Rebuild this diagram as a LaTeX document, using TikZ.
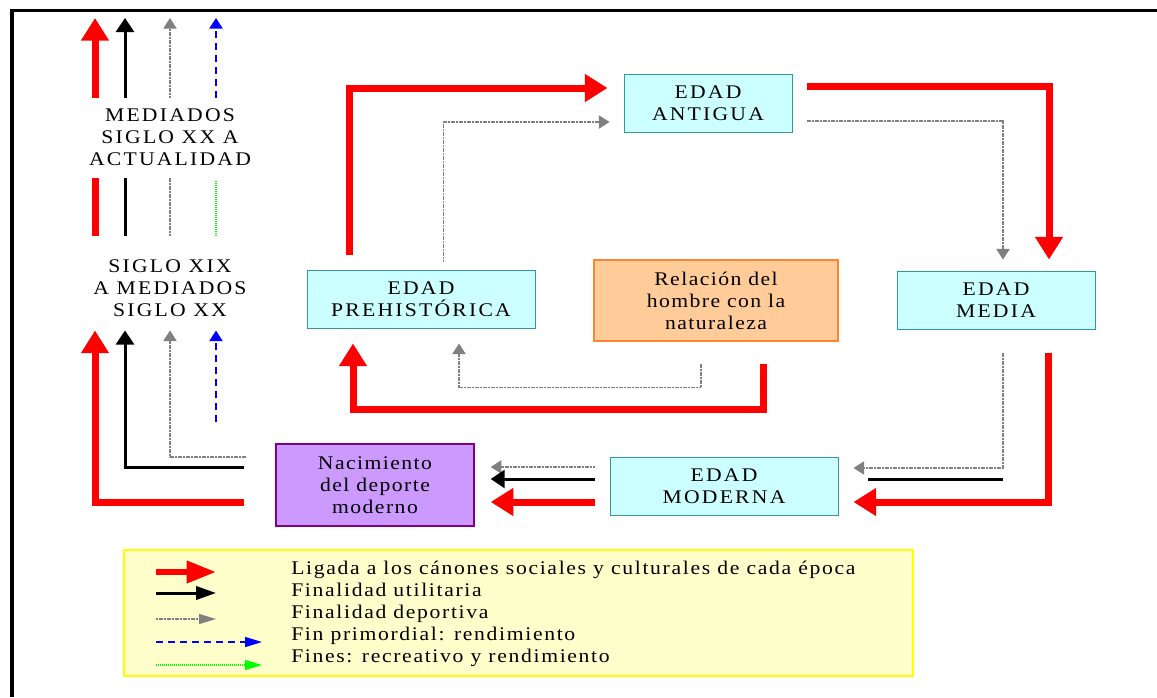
\documentclass[tikz,border=0pt]{standalone}
\usepackage{fontspec}
\setmainfont{Liberation Serif}
\newfontfamily\capsfont{Liberation Serif}[LetterSpace=11.5,FakeStretch=1.12]
\newfontfamily\lowfont{Liberation Serif}[LetterSpace=7.5,FakeStretch=1.12]
\newfontfamily\legfont{Liberation Serif}[LetterSpace=8.6,FakeStretch=1.12]
\usetikzlibrary{arrows.meta,calc}
\definecolor{boxcyan}{HTML}{CCFFFF}
\definecolor{boxteal}{HTML}{339999}
\definecolor{relfill}{HTML}{FFCC99}
\definecolor{reldraw}{HTML}{FF8533}
\definecolor{nacfill}{HTML}{CC99FF}
\definecolor{nacdraw}{HTML}{800080}
\definecolor{legfill}{HTML}{FFFFCC}
\definecolor{legdraw}{HTML}{FFFF00}
\definecolor{arrred}{HTML}{FF0000}
\definecolor{arrgray}{HTML}{808080}
\definecolor{arrblue}{HTML}{0000FF}
\definecolor{arrgreen}{HTML}{00FF00}
\tikzset{
  capstext/.style={font=\capsfont\fontsize{14.5pt}{16.5pt}\selectfont, align=center, inner sep=0pt},
  lowtext/.style={font=\lowfont\fontsize{14.5pt}{16.5pt}\selectfont, align=center, inner sep=0pt},
  edadbox/.style={capstext, draw=boxteal, fill=boxcyan, line width=0.75pt, minimum height=43.5pt},
  relbox/.style={lowtext, draw=reldraw, fill=relfill, line width=1.1pt},
  nacbox/.style={lowtext, draw=nacdraw, fill=nacfill, line width=1.1pt},
  legbox/.style={draw=legdraw, fill=legfill, line width=1.5pt, inner sep=0pt},
  legtext/.style={font=\legfont\fontsize{14.5pt}{16.5pt}\selectfont, inner sep=0pt, anchor=base west},
  redline/.style={draw=arrred, line width=5.25pt},
  blackline/.style={draw=black, line width=2.25pt},
  grayline/.style={draw=arrgray, line width=1pt, dash pattern=on 1.5pt off 0.5pt},
  blueline/.style={draw=arrblue, line width=1.1pt, dash pattern=on 5.25pt off 3.75pt},
  greenline/.style={draw=arrgreen, line width=1.1pt, dash pattern=on 0.75pt off 0.75pt},
  redarr/.style={redline, -{Triangle[length=17pt,width=20pt]}},
  blackarr/.style={blackline, -{Triangle[length=10.5pt,width=13.5pt]}},
  grayarr/.style={grayline, -{Triangle[length=8pt,width=10pt]}},
  bluearr/.style={blueline, -{Triangle[length=8pt,width=10pt]}},
  redarrL/.style={redline, line width=4.5pt, -{Triangle[length=22pt,width=16pt]}},
  blackarrL/.style={blackline, -{Triangle[length=15pt,width=10pt]}},
  grayarrL/.style={grayline, -{Triangle[length=12.75pt,width=7.5pt]}},
  bluearrL/.style={blueline, -{Triangle[length=12.75pt,width=7.5pt]}},
  greenarrL/.style={greenline, -{Triangle[length=12.75pt,width=7.5pt]}}
}
\begin{document}
\begin{tikzpicture}[x=0.75pt,y=-0.75pt]
\useasboundingbox (0,0) rectangle (1157,697);
\fill[white] (0,0) rectangle (1157,697);
% frame
\draw[line width=2.25pt] (10,10.5) -- (1157,10.5);
\draw[line width=3pt] (12,9) -- (12,697);

% nodes
\node[edadbox, minimum width=126pt] (ant) at (708,103) {EDAD\\ANTIGUA};
\node[edadbox, minimum width=171pt] (pre) at (421,299) {EDAD\\PREHISTÓRICA};
\node[edadbox, minimum width=148.5pt] (med) at (996,300) {EDAD\\MEDIA};
\node[edadbox, minimum width=171pt] (mod) at (724,486) {EDAD\\MODERNA};
\node[relbox, minimum width=183pt, minimum height=60.75pt] (rel) at (716,300.5) {Relación del\\hombre con la\\naturaleza};
\node[nacbox, minimum width=148.5pt, minimum height=61.5pt] (nac) at (375,485) {Nacimiento\\del deporte\\moderno};
\node[capstext] (t1) at (170,137.5) {MEDIADOS\\SIGLO XX A\\ACTUALIDAD};
\node[capstext] (t2) at (170,288.5) {SIGLO XIX\\A MEDIADOS\\SIGLO XX};

% Prehistorica -> Antigua
\draw[redarr] ($(pre.north west)+(43,-15)$) |- ($(ant.west)+(-16,-15)$);
\draw[grayarr] ($(pre.north west)+(137,-8)$) |- ($(ant.west)+(-14,19)$);
% Antigua -> Media
\draw[redarr] ($(ant.east)+(14,-17)$) -| ($(med.north)+(53,-11)$);
\draw[grayarr] ($(ant.east)+(14,18)$) -| ($(med.north)+(7,-11)$);
% Media -> Moderna
\draw[redarr] ($(med.south)+(52,23)$) |- ($(mod.east)+(15,16)$);
\draw[grayarr] ($(med.south)+(7,23)$) |- ($(mod.east)+(15,-18)$);
\draw[blackline] ($(mod.east)+(164,-7)$) -- ($(mod.east)+(29,-7)$);
% Relacion -> Prehistorica
\draw[redarr] ($(rel.south)+(47,22)$) |- ($(pre.south)+(-68,81)$) -- ($(pre.south)+(-68,15)$);
\draw[grayarr] ($(rel.south)+(-15,22)$) |- ($(pre.south)+(38,59)$) -- ($(pre.south)+(38,15)$);
% Moderna -> Nacimiento
\draw[grayarr] ($(mod.west)+(-15,-19)$) -- ($(nac.east)+(16,-18)$);
\draw[blackarr] ($(mod.west)+(-15,-7)$) -- ($(nac.east)+(16,-6)$);
\draw[redarr] ($(mod.west)+(-15,16)$) -- ($(nac.east)+(16,17)$);
% Nacimiento -> siglo XIX
\draw[redarr] ($(nac.west)+(-31,17)$) -| ($(t2)+(-75,42)$);
\draw[blackarr] ($(nac.west)+(-31,-18)$) -| ($(t2)+(-45,42)$);
\draw[grayarr] ($(nac.west)+(-29,-28)$) -| ($(t2)+(0,42)$);
\coordinate (bS) at (216,422);
\draw[bluearr] (bS) -- ($(t2)+(46,42)$);
% siglo XIX -> mediados XX
\draw[redline] ($(t2)+(-75,-53)$) -- ($(t1)+(-75,40)$);
\draw[blackline] ($(t2)+(-45,-53)$) -- ($(t1)+(-45,40)$);
\draw[grayline] ($(t2)+(0,-53)$) -- ($(t1)+(0,40)$);
\draw[greenline] ($(t2)+(46,-53)$) -- ($(t1)+(46,43)$);
% mediados XX -> top
\draw[redarr] ($(t1)+(-75,-40)$) -- ($(t1)+(-75,-119.5)$);
\draw[blackarr] ($(t1)+(-45,-40)$) -- ($(t1)+(-45,-119.5)$);
\draw[grayarr] ($(t1)+(0,-40)$) -- ($(t1)+(0,-119.5)$);
\draw[bluearr] ($(t1)+(46,-40)$) -- ($(t1)+(46,-119.5)$);

% legend
\node[legbox, minimum width=591.75pt, minimum height=94.5pt] (leg) at (518.5,613) {};
\node[legtext] (l1) at (291,574) {Ligada a los cánones sociales y culturales de cada época};
\node[legtext] (l2) at (291,596) {Finalidad utilitaria};
\node[legtext] (l3) at (291,618) {Finalidad deportiva};
\node[legtext] (l4) at (291,640) {Fin primordial: rendimiento};
\node[legtext] (l5) at (291,662) {Fines: recreativo y rendimiento};
\draw[redarrL] ($(l1.base west)+(-135,-2)$) -- ($(l1.base west)+(-75,-2)$);
\draw[blackarrL] ($(l2.base west)+(-135,-3)$) -- ($(l2.base west)+(-75,-3)$);
\draw[grayarrL] ($(l3.base west)+(-135,1)$) -- ($(l3.base west)+(-75,1)$);
\draw[bluearrL] ($(l4.base west)+(-135,2)$) -- ($(l4.base west)+(-29,2)$);
\draw[greenarrL] ($(l5.base west)+(-135,3)$) -- ($(l5.base west)+(-29,3)$);
\end{tikzpicture}
\end{document}
